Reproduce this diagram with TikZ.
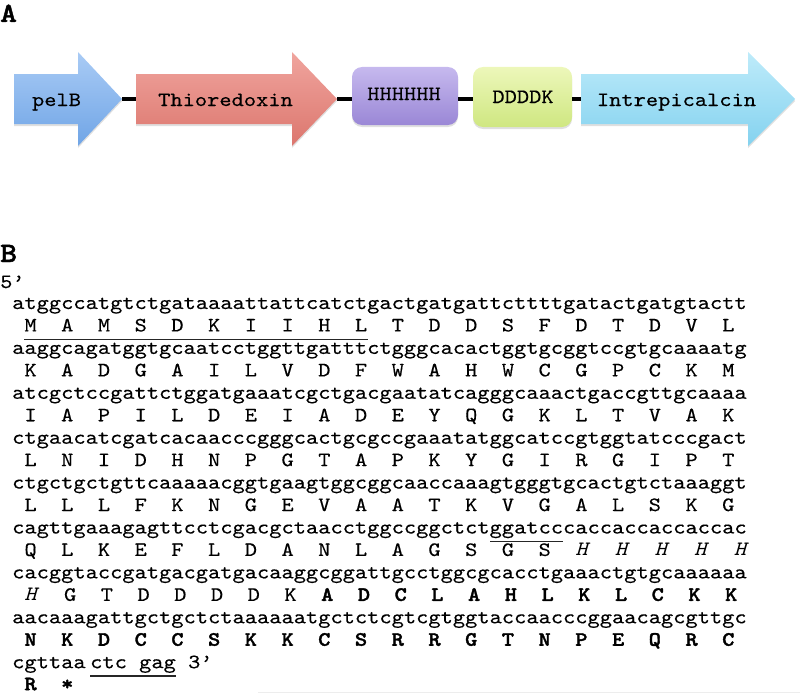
\documentclass[tikz,border=0pt]{standalone}
\usepackage{fontspec}
\setmonofont{lmmono10-regular.otf}[
  BoldFont=lmmonolt10-bold.otf,
  ItalicFont=lmmono10-italic.otf,
  UprightFeatures={FakeBold=0.3},
  BoldFeatures={FakeBold=1.6},
  FakeStretch=1.143]
\usetikzlibrary{shadows}
\definecolor{pelBtop}{HTML}{A9CBF5}\definecolor{pelBbot}{HTML}{70A5E6}
\definecolor{thiotop}{HTML}{F0A59E}\definecolor{thiobot}{HTML}{DC766E}
\definecolor{histop}{HTML}{C6B9EE}\definecolor{hisbot}{HTML}{9A87D6}
\definecolor{ddktop}{HTML}{EDF7BA}\definecolor{ddkbot}{HTML}{CFE781}
\definecolor{inttop}{HTML}{BEEBFA}\definecolor{intbot}{HTML}{84D2EF}
\newcommand\seqfont{\fontsize{20.4}{24}\selectfont\ttfamily\frenchspacing}
\newcommand\cd[1]{~#1~}
\tikzset{
  seq/.style={anchor=base west, inner sep=0pt, font=\seqfont},
  lab/.style={anchor=base west, inner sep=0pt, font=\fontsize{28}{30}\selectfont\ttfamily\bfseries},
  gtext/.style={anchor=base, inner sep=0pt, font=\seqfont},
  gene/.style={drop shadow={shadow xshift=0pt, shadow yshift=-2pt, opacity=0.25}},
  tagbox/.style={rounded corners=10pt, minimum width=#1, minimum height=58pt, inner sep=0pt,
                 drop shadow={shadow xshift=0pt, shadow yshift=-2pt, opacity=0.25}},
  link/.style={line width=3.5pt, draw=black},
  uline/.style={line width=1.2pt, draw=black!85}
}
\begin{document}
\begin{tikzpicture}[x=1pt,y=-1pt]
\useasboundingbox (0,0) rectangle (800,693);
% ---------- panel A ----------
\node[lab] (labA) at (0,22) {A};
\path[gene, top color=pelBtop, bottom color=pelBbot]
  (14,74) -- (78,74) -- (78,52) -- (122,99) -- (78,146) -- (78,124) -- (14,124) -- cycle;
\path[gene, top color=thiotop, bottom color=thiobot]
  (136,74) -- (292,74) -- (292,52) -- (337,99) -- (292,146) -- (292,124) -- (136,124) -- cycle;
\path[gene, top color=inttop, bottom color=intbot]
  (581,74) -- (748,74) -- (748,52) -- (795,99) -- (748,146) -- (748,124) -- (581,124) -- cycle;
\coordinate (pelBtip) at (122,99);
\coordinate (thioL) at (136,99);
\coordinate (thioTip) at (337,99);
\coordinate (intL) at (581,99);
\node[tagbox=106pt, top color=histop, bottom color=hisbot] (his) at (405,96) {};
\node[tagbox=99pt, minimum height=60pt, top color=ddktop, bottom color=ddkbot] (ddk) at (522.5,97) {};
\node[gtext] (pelBt) at (56.5,106) {pelB};
\node[gtext] (thiot) at (225.5,106) {Thioredoxin};
\node[gtext] (hist) at (404,100) {HHHHHH};
\node[gtext] (ddkt) at (523,103) {DDDDK};
\node[gtext] (intt) at (676.5,106) {Intrepicalcin};
\draw[link] (pelBtip) -- (thioL);
\draw[link] (thioTip) -- (thioTip -| his.west);
\draw[link] (his.east |- thioTip) -- (ddk.west |- thioTip);
\draw[link] (ddk.east |- intL) -- (intL);
% ---------- panel B ----------
\node[lab] (labB) at (0,262) {B};
\node[seq] (five) at (0,288) {5’};
\node[seq] (n1) at (12,309.0) {atggccatgtctgataaaattattcatctgactgatgattcttttgatactgatgtactt};
\node[seq] (p1) at (12,331.45) {\cd M\cd A\cd M\cd S\cd D\cd K\cd I\cd I\cd H\cd L\cd T\cd D\cd D\cd S\cd F\cd D\cd T\cd D\cd V\cd L};
\node[seq] (n2) at (12,353.9) {aaggcagatggtgcaatcctggttgatttctgggcacactggtgcggtccgtgcaaaatg};
\node[seq] (p2) at (12,376.35) {\cd K\cd A\cd D\cd G\cd A\cd I\cd L\cd V\cd D\cd F\cd W\cd A\cd H\cd W\cd C\cd G\cd P\cd C\cd K\cd M};
\node[seq] (n3) at (12,398.8) {atcgctccgattctggatgaaatcgctgacgaatatcagggcaaactgaccgttgcaaaa};
\node[seq] (p3) at (12,421.25) {\cd I\cd A\cd P\cd I\cd L\cd D\cd E\cd I\cd A\cd D\cd E\cd Y\cd Q\cd G\cd K\cd L\cd T\cd V\cd A\cd K};
\node[seq] (n4) at (12,443.7) {ctgaacatcgatcacaacccgggcactgcgccgaaatatggcatccgtggtatcccgact};
\node[seq] (p4) at (12,466.15) {\cd L\cd N\cd I\cd D\cd H\cd N\cd P\cd G\cd T\cd A\cd P\cd K\cd Y\cd G\cd I\cd R\cd G\cd I\cd P\cd T};
\node[seq] (n5) at (12,488.6) {ctgctgctgttcaaaaacggtgaagtggcggcaaccaaagtgggtgcactgtctaaaggt};
\node[seq] (p5) at (12,511.05) {\cd L\cd L\cd L\cd F\cd K\cd N\cd G\cd E\cd V\cd A\cd A\cd T\cd K\cd V\cd G\cd A\cd L\cd S\cd K\cd G};
\node[seq] (n6) at (12,533.5) {cagttgaaagagttcctcgacgctaacctggccggctctggatcccaccaccaccaccac};
\node[seq] (p6) at (12,555.95) {\cd Q\cd L\cd K\cd E\cd F\cd L\cd D\cd A\cd N\cd L\cd A\cd G\cd S\cd G\cd S\cd{\textit{H}}\cd{\textit{H}}\cd{\textit{H}}\cd{\textit{H}}\cd{\textit{H}}};
\node[seq] (n7) at (12,578.4) {cacggtaccgatgacgatgacaaggcggattgcctggcgcacctgaaactgtgcaaaaaa};
\node[seq] (p7) at (12,600.85) {\cd{\textit{H}}\cd G\cd T\cd D\cd D\cd D\cd D\cd K\bfseries\cd A\cd D\cd C\cd L\cd A\cd H\cd L\cd K\cd L\cd C\cd K\cd K};
\node[seq] (n8) at (12,623.3) {aacaaagattgctgctctaaaaaatgctctcgtcgtggtaccaacccggaacagcgttgc};
\node[seq] (p8) at (12,645.75) {\bfseries\cd N\cd K\cd D\cd C\cd C\cd S\cd K\cd K\cd C\cd S\cd R\cd R\cd G\cd T\cd N\cd P\cd E\cd Q\cd R\cd C};
\node[seq] (n9) at (12,668.2) {cgttaa};
\node[seq] (n9b) at (90,668.2) {ctc~gag~3’};
\node[seq] (p9) at (12,690.2) {\bfseries\cd R\cd *};
% underlines
\draw[uline] (24,339.5) -- (368,339.5);
\draw[uline] (490,541.5) -- (563,541.5);
\draw[uline] (90,676) -- (175.6,676);
% faint rule at the bottom
\draw[draw=black!7, line width=0.8pt] (258,692) -- (800,692);
\end{tikzpicture}
\end{document}
